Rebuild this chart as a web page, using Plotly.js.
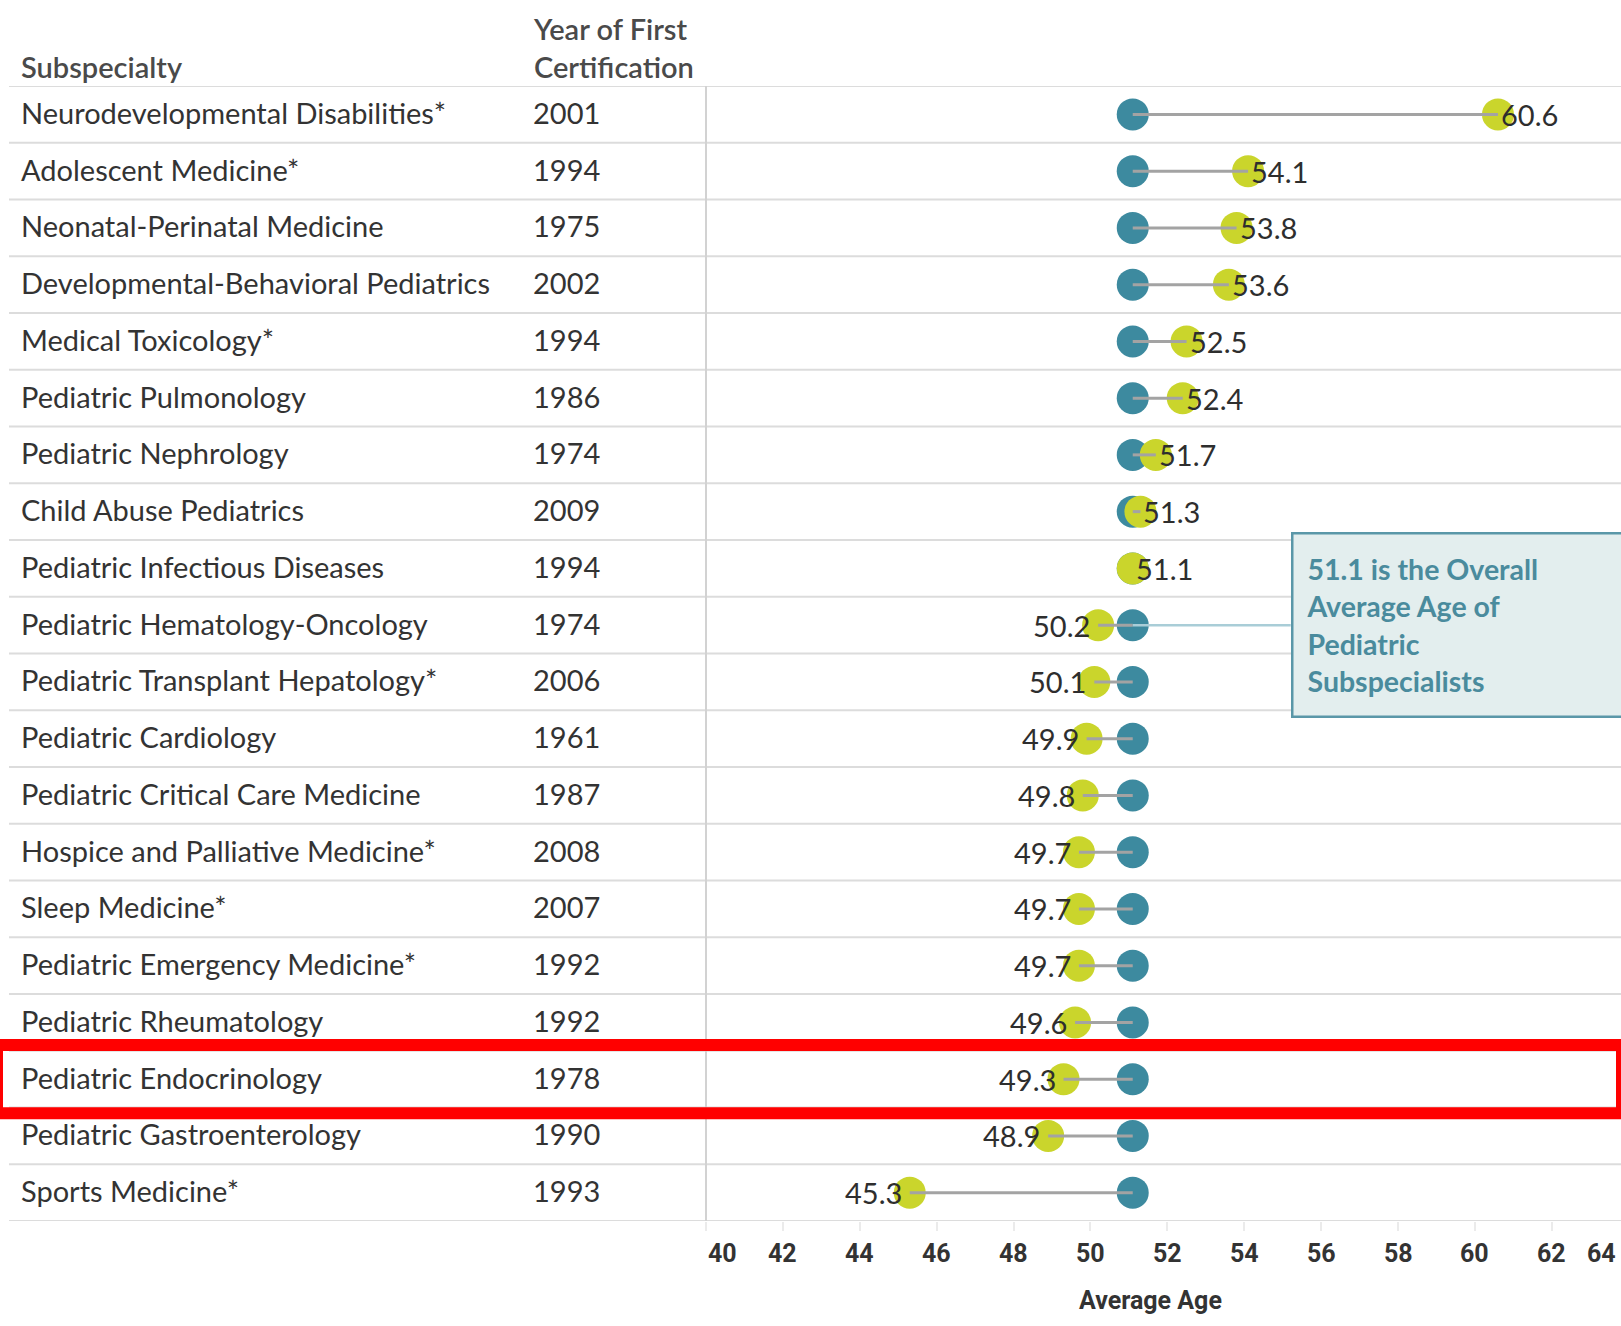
<!DOCTYPE html>
<html>
<head>
<meta charset="utf-8">
<script src="https://cdn.plot.ly/plotly-3.0.1.min.js"></script>
<style>
  html, body { margin: 0; padding: 0; background: #ffffff; }
  #chart { width: 1621px; height: 1326px; }
</style>
</head>
<body>
<div id="chart"></div>
<script>
// ---- data ----
var subspecialties = [
  "Neurodevelopmental Disabilities*",
  "Adolescent Medicine*",
  "Neonatal-Perinatal Medicine",
  "Developmental-Behavioral Pediatrics",
  "Medical Toxicology*",
  "Pediatric Pulmonology",
  "Pediatric Nephrology",
  "Child Abuse Pediatrics",
  "Pediatric Infectious Diseases",
  "Pediatric Hematology-Oncology",
  "Pediatric Transplant Hepatology*",
  "Pediatric Cardiology",
  "Pediatric Critical Care Medicine",
  "Hospice and Palliative Medicine*",
  "Sleep Medicine*",
  "Pediatric Emergency Medicine*",
  "Pediatric Rheumatology",
  "Pediatric Endocrinology",
  "Pediatric Gastroenterology",
  "Sports Medicine*"
];
var firstCertYear = [2001, 1994, 1975, 2002, 1994, 1986, 1974, 2009, 1994, 1974,
                     2006, 1961, 1987, 2008, 2007, 1992, 1992, 1978, 1990, 1993];
var avgAge = [60.6, 54.1, 53.8, 53.6, 52.5, 52.4, 51.7, 51.3, 51.1, 50.2,
              50.1, 49.9, 49.8, 49.7, 49.7, 49.7, 49.6, 49.3, 48.9, 45.3];
var overallAvg = 51.1;
var xTicks = [40, 42, 44, 46, 48, 50, 52, 54, 56, 58, 60, 62, 64];
var highlighted = "Pediatric Endocrinology";
var calloutRow = "Pediatric Hematology-Oncology";
var calloutText = "51.1 is the Overall<br>Average Age of<br>Pediatric<br>Subspecialists";
var headerSub = "Subspecialty";
var headerYear = "Year of First<br>Certification";
var xTitle = "Average Age";

// ---- geometry (pixels of the 1621x1326 page) ----
var W = 1621, H = 1326;
var plotLeft = 706, plotTop = 86, plotBottom = 1221;
var xMax = 63.8;
function px(x) { return x / W; }
function py(y) { return 1 - y / H; }

var overallArr = subspecialties.map(function () { return overallAvg; });

// connector lines between the two dots
var lineX = [], lineY = [];
subspecialties.forEach(function (s, i) {
  lineX.push(avgAge[i], overallArr[i], null);
  lineY.push(s, s, null);
});

var BASE_FONT = "Lato, 'Noto Sans', sans-serif";
var BOLD_FONT = "Roboto, Lato, sans-serif";
var FS = 29;

var traces = [
  {
    type: "scatter", mode: "markers", x: overallArr, y: subspecialties,
    marker: { size: 32, color: "#3d8a9f" }, hoverinfo: "skip", showlegend: false
  },
  {
    type: "scatter", mode: "markers", x: avgAge, y: subspecialties,
    marker: { size: 32, color: "#cad52c" }, hoverinfo: "skip", showlegend: false
  },
  {
    type: "scatter", mode: "lines", x: lineX, y: lineY,
    line: { color: "#a3a3a3", width: 3 }, hoverinfo: "skip", showlegend: false
  }
];

var shapes = [];
// row separators
for (var i = 0; i <= subspecialties.length; i++) {
  shapes.push({
    type: "line", xref: "paper", yref: "y",
    x0: px(9), x1: 1, y0: i - 0.5, y1: i - 0.5,
    line: { color: "#dcdcdc", width: 2 }, layer: "below"
  });
}
// vertical separator at the axis start
shapes.push({
  type: "line", xref: "paper", yref: "y",
  x0: px(plotLeft), x1: px(plotLeft), y0: -0.5, y1: subspecialties.length - 0.5,
  line: { color: "#d2d2d2", width: 2 }, layer: "below"
});
// red highlight box
var hi = subspecialties.indexOf(highlighted);
shapes.push({
  type: "rect", xref: "paper", yref: "y",
  x0: px(-3), x1: px(1622), y0: hi - 0.6, y1: hi + 0.6,
  line: { color: "#ff0000", width: 12 }, fillcolor: "rgba(0,0,0,0)", layer: "above"
});

var annotations = [];
// headers
annotations.push({
  xref: "paper", yref: "paper", x: px(19), y: py(66), xanchor: "left", yanchor: "middle",
  text: headerSub, showarrow: false,
  font: { family: BASE_FONT, size: FS, color: "#4a4a4a", weight: 600 }
});
annotations.push({
  xref: "paper", yref: "paper", x: px(531), y: py(48), xanchor: "left", yanchor: "middle",
  text: headerYear, showarrow: false, align: "left",
  font: { family: BASE_FONT, size: FS, color: "#4a4a4a", weight: 600 }
});
// row labels and value labels
subspecialties.forEach(function (s, i) {
  annotations.push({
    xref: "paper", yref: "y", x: px(19), y: s, xanchor: "left", yanchor: "middle", yshift: 2,
    text: s, showarrow: false, font: { family: BASE_FONT, size: FS, color: "#333333" }
  });
  annotations.push({
    xref: "paper", yref: "y", x: px(531), y: s, xanchor: "left", yanchor: "middle", yshift: 2,
    text: String(firstCertYear[i]), showarrow: false, font: { family: BASE_FONT, size: FS, color: "#333333" }
  });
  var right = avgAge[i] >= overallAvg;
  annotations.push({
    xref: "x", yref: "y", x: avgAge[i], y: s,
    xanchor: right ? "left" : "right", yanchor: "middle",
    xshift: right ? 1 : -6, yshift: 0,
    text: avgAge[i].toFixed(1), showarrow: false,
    font: { family: BASE_FONT, size: FS, color: "#2e2e2e" }
  });
});
// x tick labels
xTicks.forEach(function (t, k) {
  var a = {
    yref: "paper", y: py(1253), yanchor: "middle", text: String(t), showarrow: false,
    font: { family: BOLD_FONT, size: 25, color: "#333333", weight: 700 }
  };
  if (t > xMax) { a.xref = "paper"; a.x = 1; a.xanchor = "right"; a.xshift = -3; }
  else { a.xref = "x"; a.x = t; a.xanchor = (k === 0) ? "left" : "center"; }
  annotations.push(a);
});
// x title
annotations.push({
  xref: "paper", yref: "paper", x: px(1150), y: py(1300), xanchor: "center", yanchor: "middle",
  text: xTitle, showarrow: false, font: { family: BOLD_FONT, size: 25, color: "#333333", weight: 700 }
});
// callout box with connector
annotations.push({
  xref: "x", yref: "y", x: overallAvg, y: calloutRow,
  showarrow: true, arrowhead: 0, arrowwidth: 2.5, arrowcolor: "#a9cdd7",
  ax: 158, ay: 0, xanchor: "left", yanchor: "middle",
  text: calloutText, align: "left", valign: "middle",
  width: 328, height: 155, borderpad: 13, borderwidth: 2.5,
  bordercolor: "#5a97a8", bgcolor: "#e3eeee",
  font: { family: BASE_FONT, size: 28.5, color: "#4a8b9d", weight: 700 }
});

var layout = {
  width: W, height: H,
  margin: { l: 0, r: 0, t: 0, b: 0 },
  paper_bgcolor: "#ffffff", plot_bgcolor: "rgba(0,0,0,0)",
  showlegend: false,
  xaxis: {
    domain: [px(plotLeft), 1], range: [40, xMax],
    tickvals: xTicks.filter(function (t) { return t <= xMax; }),
    showticklabels: false, ticks: "outside", ticklen: 9, tickwidth: 2, tickcolor: "#ebebeb",
    showgrid: false, zeroline: false, showline: false, fixedrange: true
  },
  yaxis: {
    domain: [py(plotBottom), py(plotTop)],
    type: "category", categoryorder: "array", categoryarray: subspecialties,
    range: [subspecialties.length - 0.5, -0.5],
    showticklabels: false, showgrid: false, zeroline: false, showline: false, ticks: "",
    fixedrange: true
  },
  shapes: shapes,
  annotations: annotations
};

Plotly.newPlot("chart", traces, layout, { displayModeBar: false, staticPlot: true });
</script>
</body>
</html>
